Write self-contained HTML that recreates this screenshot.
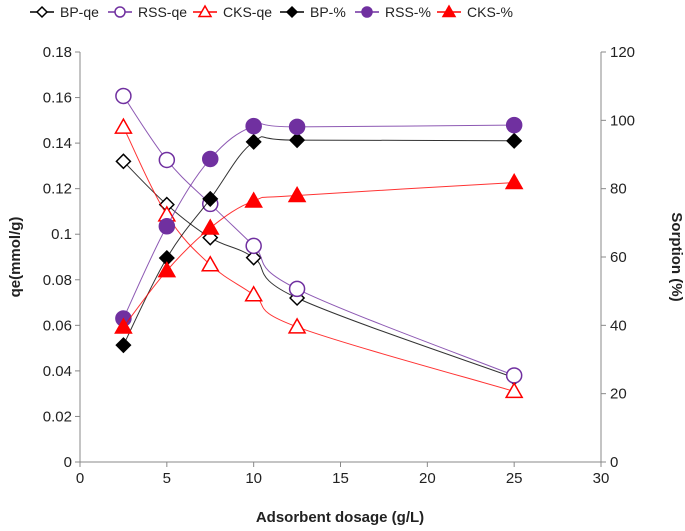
<!DOCTYPE html>
<html><head><meta charset="utf-8"><style>
html,body{margin:0;padding:0;background:#fff;}
svg{display:block;font-family:"Liberation Sans",sans-serif;}
</style></head><body>
<svg id="chart" width="685" height="531" viewBox="0 0 685 531">
<g id="axes"></g><g id="series"></g><g id="legend"></g>
</svg>
<script>
const xVals = [2.5, 5, 7.5, 10, 12.5, 25];
const bpQe = [0.132, 0.113, 0.0985, 0.0897, 0.072, 0.037];
const rssQe = [0.1607, 0.1326, 0.1133, 0.0949, 0.076, 0.038];
const cksQe = [0.147, 0.1085, 0.0866, 0.0734, 0.0593, 0.031];
const bpPct = [34.2, 59.7, 77, 93.7, 94.2, 94];
const rssPct = [42, 69, 88.7, 98.3, 98.1, 98.6];
const cksPct = [39.5, 56, 68.5, 76.4, 78, 81.8];
const xTicks = [0, 5, 10, 15, 20, 25, 30];
const yLeftTicks = [0, 0.02, 0.04, 0.06, 0.08, 0.1, 0.12, 0.14, 0.16, 0.18];
const yRightTicks = [0, 20, 40, 60, 80, 100, 120];

const NS = "http://www.w3.org/2000/svg";
const L = 80, R = 601, T = 52, B = 462;
const xs = v => L + (v / 30) * (R - L);
const yl = v => B - (v / 0.18) * (B - T);
const yr = v => B - (v / 120) * (B - T);
function mk(tag, attrs, parent) {
  const e = document.createElementNS(NS, tag);
  for (const k in attrs) e.setAttribute(k, attrs[k]);
  parent.appendChild(e); return e;
}
const axes = document.getElementById('axes');
const series = document.getElementById('series');
const legend = document.getElementById('legend');

let e;
e = mk('line', {x1: L, y1: B, x2: R, y2: B, stroke: '#888', 'stroke-width': 1}, axes);


e = mk('line', {x1: L, y1: T, x2: L, y2: B, stroke: '#888', 'stroke-width': 1}, axes);


e = mk('line', {x1: R, y1: T, x2: R, y2: B, stroke: '#888', 'stroke-width': 1}, axes);



xTicks.forEach(t => {
  mk('line', {x1: xs(t), y1: B, x2: xs(t), y2: B + 5, stroke: '#888'}, axes);
  e = mk('text', {x: xs(t), y: B + 21, 'text-anchor': 'middle', 'font-size': 15, fill: '#222'}, axes);
  e.textContent = t;
  
  
});
yLeftTicks.forEach(t => {
  mk('line', {x1: L - 5, y1: yl(t), x2: L, y2: yl(t), stroke: '#888'}, axes);
  e = mk('text', {x: L - 8, y: yl(t) + 5, 'text-anchor': 'end', 'font-size': 15, fill: '#222'}, axes);
  e.textContent = t === 0 ? '0' : String(t);
  
  
});
yRightTicks.forEach(t => {
  mk('line', {x1: R, y1: yr(t), x2: R + 5, y2: yr(t), stroke: '#888'}, axes);
  e = mk('text', {x: R + 9, y: yr(t) + 5, 'text-anchor': 'start', 'font-size': 15, fill: '#222'}, axes);
  e.textContent = t;
  
  
});
e = mk('text', {x: 340, y: 522, 'text-anchor': 'middle', 'font-size': 15, 'font-weight': 'bold', fill: '#222'}, axes);
e.textContent = 'Adsorbent dosage (g/L)';


e = mk('text', {x: 0, y: 0, 'text-anchor': 'middle', 'font-size': 15, 'font-weight': 'bold', fill: '#222', transform: 'translate(20,257) rotate(-90)'}, axes);
e.textContent = 'qe(mmol/g)';


e = mk('text', {x: 0, y: 0, 'text-anchor': 'middle', 'font-size': 15, 'font-weight': 'bold', fill: '#222', transform: 'translate(672,257) rotate(90)'}, axes);
e.textContent = 'Sorption (%)';



function smoothPath(pts) {
  let d = `M${pts[0][0]},${pts[0][1]}`;
  for (let i = 0; i < pts.length - 1; i++) {
    const p0 = pts[i - 1] || pts[i], p1 = pts[i], p2 = pts[i + 1], p3 = pts[i + 2] || p2;
    const t = 0.18;
    const c1 = [p1[0] + (p2[0] - p0[0]) * t, p1[1] + (p2[1] - p0[1]) * t];
    const c2 = [p2[0] - (p3[0] - p1[0]) * t, p2[1] - (p3[1] - p1[1]) * t];
    d += ` C${c1[0]},${c1[1]} ${c2[0]},${c2[1]} ${p2[0]},${p2[1]}`;
  }
  return d;
}
function marker(shape, x, y, color, filled, parent, big) {
  const f = filled ? color : '#fff';
  if (shape === 'diamond') {
    const s = big ? 7 : 5;
    return mk('polygon', {points: `${x},${y - s} ${x + s},${y} ${x},${y + s} ${x - s},${y}`, fill: f, stroke: color, 'stroke-width': 1.5}, parent);
  } else if (shape === 'circle') {
    return mk('circle', {cx: x, cy: y, r: big ? 7.5 : 5, fill: f, stroke: color, 'stroke-width': 1.5}, parent);
  } else {
    const s = big ? 8 : 6;
    return mk('polygon', {points: `${x},${y - s} ${x + s},${y + s * 0.75} ${x - s},${y + s * 0.75}`, fill: f, stroke: color, 'stroke-width': 1.5}, parent);
  }
}
const defs = [
  {name: 'BP-qe', key: 'bp-qe', data: bpQe, ys: yl, color: '#000', shape: 'diamond', filled: false},
  {name: 'RSS-qe', key: 'rss-qe', data: rssQe, ys: yl, color: '#7030a0', shape: 'circle', filled: false},
  {name: 'CKS-qe', key: 'cks-qe', data: cksQe, ys: yl, color: '#ff0000', shape: 'triangle', filled: false},
  {name: 'BP-%', key: 'bp-pct', data: bpPct, ys: yr, color: '#000', shape: 'diamond', filled: true},
  {name: 'RSS-%', key: 'rss-pct', data: rssPct, ys: yr, color: '#7030a0', shape: 'circle', filled: true},
  {name: 'CKS-%', key: 'cks-pct', data: cksPct, ys: yr, color: '#ff0000', shape: 'triangle', filled: true}
];
const legendX = [30, 108, 193, 280, 355, 437];
defs.forEach((s, i) => {
  const g = mk('g', {}, series);
  
  
  const pts = s.data.map((v, j) => [xs(xVals[j]), s.ys(v)]);
  mk('path', {d: smoothPath(pts), fill: 'none', stroke: s.color, 'stroke-width': 1, opacity: 0.8}, g);
  pts.forEach(p => {
    const m = marker(s.shape, p[0], p[1], s.color, s.filled, g, true);
    
    
  });
  const lg = mk('g', {}, legend);
  
  
  const lx = legendX[i];
  mk('line', {x1: lx, y1: 12, x2: lx + 24, y2: 12, stroke: s.color, 'stroke-width': 1.5}, lg);
  marker(s.shape, lx + 12, 12, s.color, s.filled, lg, false);
  const tx = mk('text', {x: lx + 30, y: 17, 'font-size': 14, fill: '#222'}, lg);
  tx.textContent = s.name;
});
</script>
</body></html>
